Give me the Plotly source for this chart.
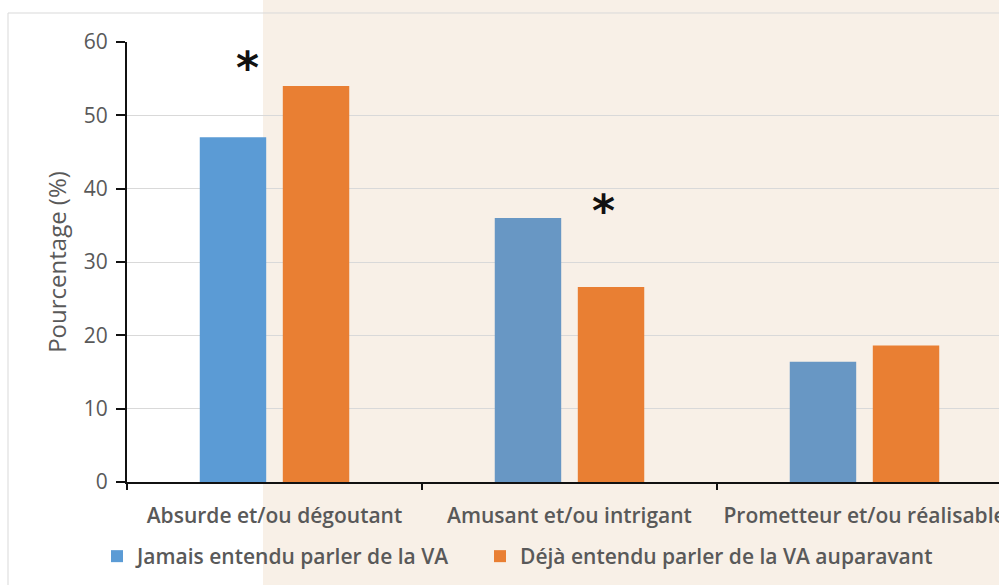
import plotly.graph_objects as go

categories = ["Absurde et/ou dégoutant", "Amusant et/ou intrigant", "Prometteur et/ou réalisable"]
series_names = ["Jamais entendu parler de la VA", "Déjà entendu parler de la VA auparavant"]
jamais = [47, 36, 16.4]
deja = [54, 26.6, 18.6]
star_x = [-0.093, 1.114]
star_y = [56.5, 37.0]
y_ticks = [0, 10, 20, 30, 40, 50, 60]

W, H = 999, 585
L, T, B = 127, 42, 103
plot_w = W - L
plot_h = H - T - B
cat_px = 295.0

def px_to_paper_x(px):
    return (px - L) / plot_w

def py_to_paper_y(py):
    return (H - B - py) / plot_h

fig = go.Figure()
fig.add_trace(go.Bar(
    x=categories, y=jamais, name=series_names[0], legend="legend",
    marker=dict(color=["#5B9BD5", "#6897C4", "#6897C4"], line=dict(width=0)),
))
fig.add_trace(go.Bar(
    x=categories, y=deja, name=series_names[1], legend="legend2",
    marker=dict(color="#E97F33", line=dict(width=0)),
))

for sx, sy in zip(star_x, star_y):
    fig.add_annotation(x=sx, y=sy, xref="x", yref="y", text="<b>*</b>", showarrow=False,
                       font=dict(family="DejaVu Sans", size=44, color="#111111"))

# beige background region and chart frame
fig.add_shape(type="rect", xref="paper", yref="paper",
              x0=px_to_paper_x(263), x1=px_to_paper_x(1010),
              y0=py_to_paper_y(600), y1=py_to_paper_y(-10),
              fillcolor="#F8F0E7", line=dict(width=0), layer="below")
fig.add_shape(type="rect", xref="paper", yref="paper",
              x0=px_to_paper_x(8), x1=px_to_paper_x(1010),
              y0=py_to_paper_y(600), y1=py_to_paper_y(13),
              fillcolor="rgba(0,0,0,0)", line=dict(width=1, color="#D9D9D9"), layer="below")

legend_font = dict(family="Open Sans", size=21, color="#595959", weight=600)

fig.update_layout(
    width=W, height=H,
    margin=dict(l=L, r=0, t=T, b=B, autoexpand=False),
    paper_bgcolor="white", plot_bgcolor="rgba(0,0,0,0)",
    barmode="group", bargap=0.437, bargroupgap=0.2,
    font=dict(family="Open Sans", color="#595959"),
    showlegend=True,
    legend=dict(orientation="h", x=px_to_paper_x(97), xanchor="left",
                y=py_to_paper_y(536), yanchor="top",
                font=legend_font, bgcolor="rgba(0,0,0,0)", itemclick=False),
    legend2=dict(orientation="h", x=px_to_paper_x(480), xanchor="left",
                 y=py_to_paper_y(536), yanchor="top",
                 font=legend_font, bgcolor="rgba(0,0,0,0)", itemclick=False),
    xaxis=dict(
        range=[-0.5, -0.5 + plot_w / cat_px],
        showline=True, linecolor="#111111", linewidth=2,
        ticks="outside", ticklen=6, tickcolor="#111111", tickwidth=2,
        tickson="boundaries", ticklabelstandoff=14,
        tickfont=dict(family="Open Sans", size=21, color="#595959", weight=600),
        showgrid=False, automargin=False,
    ),
    yaxis=dict(
        range=[0, 60], tickvals=y_ticks,
        showline=True, linecolor="#111111", linewidth=2,
        ticks="outside", ticklen=9, tickcolor="#111111", tickwidth=2,
        ticklabelstandoff=4,
        tickfont=dict(family="Open Sans", size=21, color="#595959"),
        showgrid=True, gridcolor="#D9D9D9", gridwidth=1,
        zeroline=False, automargin=False,
        title=dict(text="Pourcentage (%)", font=dict(family="Open Sans", size=24, color="#595959"),
                   standoff=10),
    ),
)

fig.write_html("out.html", config={"displayModeBar": False},
               post_script="document.body.style.margin='0';document.body.style.overflow='hidden';")
